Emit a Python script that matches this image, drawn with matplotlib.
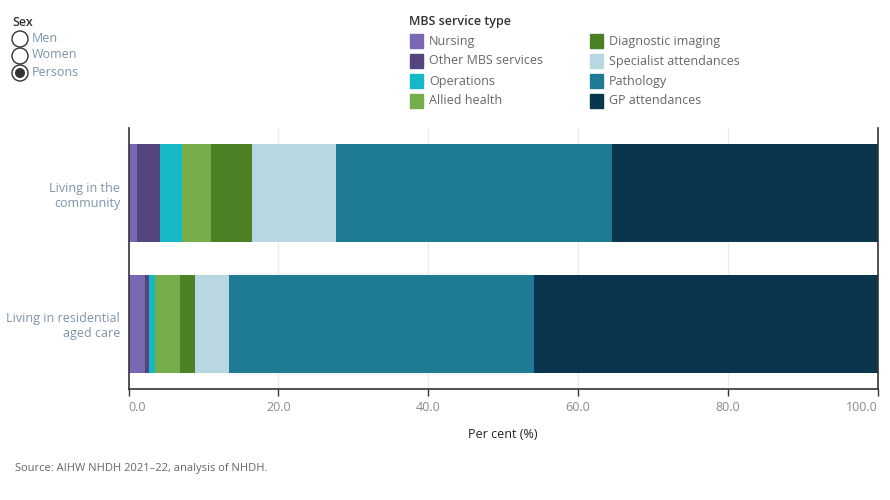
import matplotlib.pyplot as plt
from matplotlib.patches import Ellipse, Rectangle

# Data
groups = ["Living in the\ncommunity", "Living in residential\naged care"]
services = ["Nursing", "Other MBS services", "Operations", "Allied health",
            "Diagnostic imaging", "Specialist attendances", "Pathology", "GP attendances"]
community = [1.1, 3.1, 2.9, 3.9, 5.5, 11.2, 36.8, 35.5]
residential = [2.2, 0.5, 0.8, 3.4, 2.0, 4.5, 40.7, 45.9]
colours = ["#7b68b5", "#55457f", "#14b8c6", "#74ad4a",
           "#4b8025", "#b9d7e0", "#1f7b93", "#0a364d"]
sex_options = ["Men", "Women", "Persons"]

plt.rcParams['font.family'] = ['Open Sans', 'DejaVu Sans']

W, H = 890, 500
fig = plt.figure(figsize=(8.9, 5), dpi=100)
ax = fig.add_axes([0.1444, 0.222, 0.8416, 0.522])

# Stacked horizontal bars
left = [0.0, 0.0]
for i, name in enumerate(services):
    vals = [community[i], residential[i]]
    ax.barh([0, 1], vals, left=left, height=0.754, color=colours[i], label=name, zorder=2)
    left = [left[0] + vals[0], left[1] + vals[1]]

ax.set_xlim(0, 100)
ax.set_ylim(1.5, -0.5)
ax.set_xticks([0, 20, 40, 60, 80, 100])
ax.set_xticklabels(["0.0", "20.0", "40.0", "60.0", "80.0", "100.0"])
lbls = ax.get_xticklabels()
lbls[0].set_ha("left")
lbls[-1].set_ha("right")
ax.set_yticks([0, 1])
ax.set_yticklabels(groups, color="#7d93a8", fontsize=9, ha="right", multialignment="right")
ax.tick_params(axis="y", length=0, pad=6)
ax.tick_params(axis="x", colors="#333333", labelcolor="#8a8a8a", labelsize=9, length=5, width=1)
ax.grid(axis="x", color="#ececec", linewidth=1, zorder=0)
ax.spines["top"].set_visible(False)
for s in ["left", "right", "bottom"]:
    ax.spines[s].set_color("#333333")
    ax.spines[s].set_linewidth(1.2)
    ax.spines[s].set_zorder(3)
ax.set_xlabel("Per cent (%)", fontsize=9, color="#222222", labelpad=10)

# Legend drawn by hand to match the layout
fig.text(409 / W, 1 - 22 / H, "MBS service type", fontsize=9, color="#333333",
         fontweight="semibold", va="center")
for i, name in enumerate(services):
    col = i // 4
    row = i % 4
    x0 = 410 if col == 0 else 590
    y0 = 41 + row * 20
    fig.patches.append(Rectangle((x0 / W, 1 - (y0 + 7) / H), 13 / W, 14 / H,
                                 transform=fig.transFigure, color=colours[i]))
    fig.text((x0 + 19) / W, 1 - y0 / H, name, fontsize=9, color="#666666", va="center")

# Sex selector (radio buttons)
fig.text(12 / W, 1 - 22 / H, "Sex", fontsize=9, color="#333333",
         fontweight="semibold", va="center")
for j, opt in enumerate(sex_options):
    cy = 39 + j * 17
    fig.patches.append(Ellipse((20 / W, 1 - cy / H), 16 / W, 16 / H, transform=fig.transFigure,
                               facecolor="white", edgecolor="#333333", linewidth=1))
    if opt == "Persons":
        fig.patches.append(Ellipse((20 / W, 1 - cy / H), 10 / W, 10 / H, transform=fig.transFigure,
                                   facecolor="#333333", edgecolor="none"))
    fig.text(32 / W, 1 - (cy - 1) / H, opt, fontsize=9, color="#7d93a8", va="center")

fig.text(15 / W, 1 - 468 / H, "Source: AIHW NHDH 2021\u201322, analysis of NHDH.",
         fontsize=8, color="#666666", va="center")

fig.savefig("out.png", dpi=100)
